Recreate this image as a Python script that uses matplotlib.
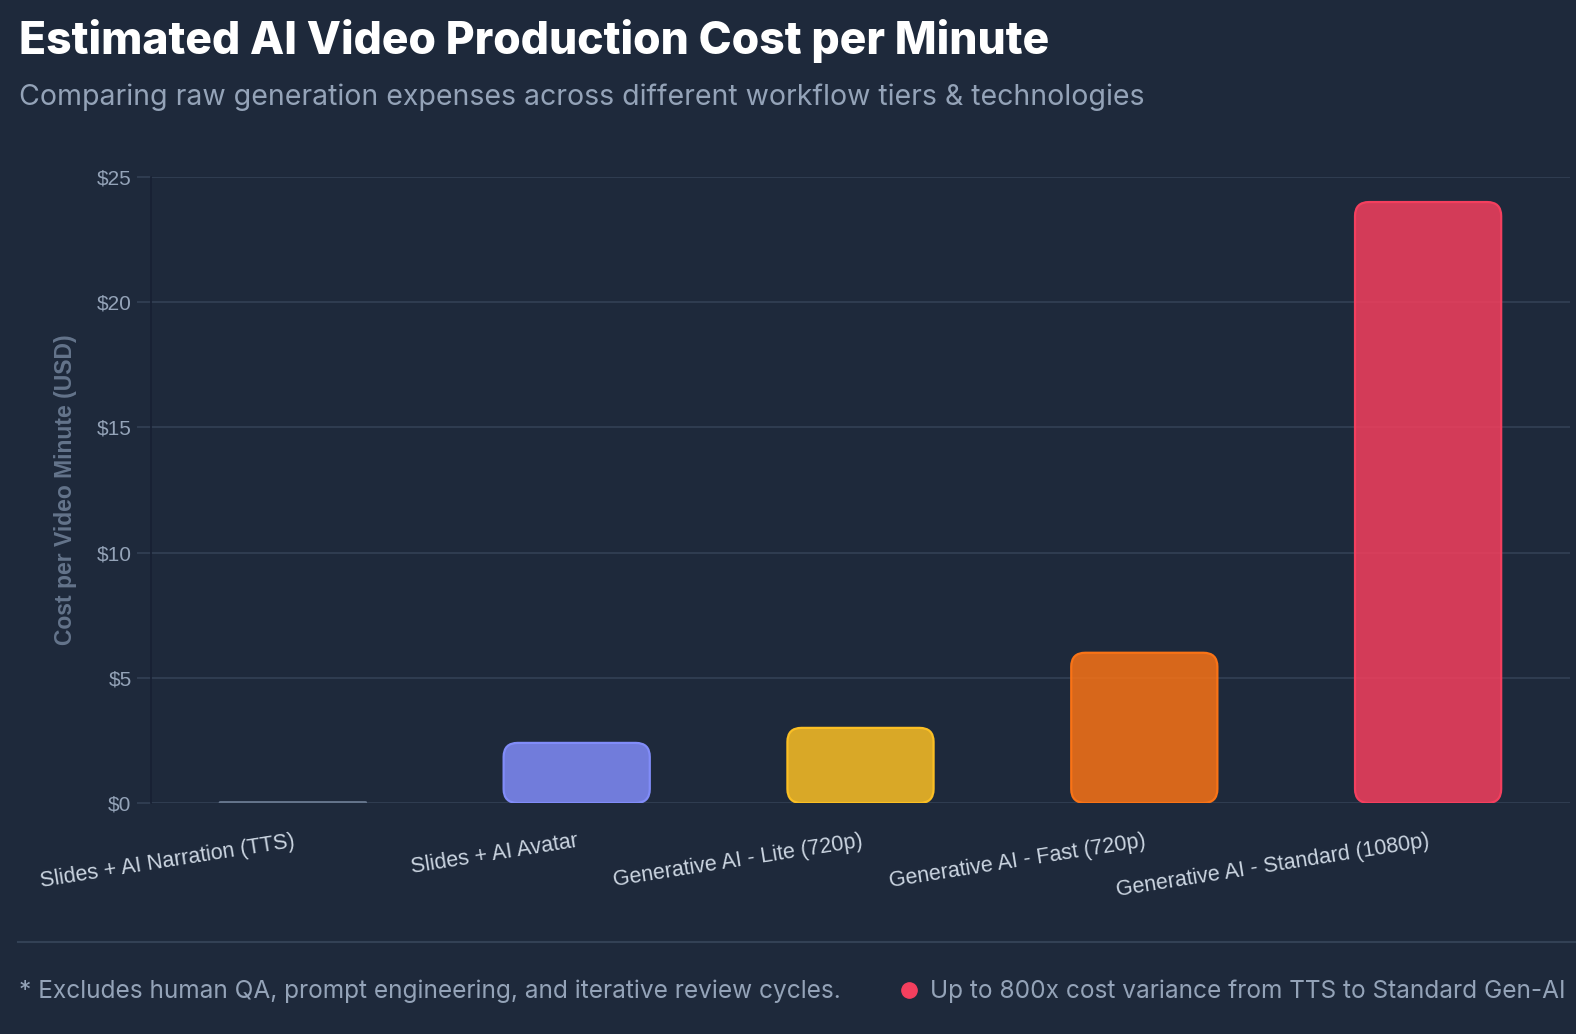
import matplotlib
matplotlib.use("Agg")
import matplotlib.pyplot as plt
from matplotlib.patches import FancyBboxPatch
from matplotlib.lines import Line2D

categories = [
    "Slides + AI Narration (TTS)",
    "Slides + AI Avatar",
    "Generative AI - Lite (720p)",
    "Generative AI - Fast (720p)",
    "Generative AI - Standard (1080p)",
]
costs = [0.03, 2.4, 3.0, 6.0, 24.0]
edge_colors = ["#64748b", "#818cf8", "#fbbf24", "#f97316", "#f43f5e"]
yticks = [0, 5, 10, 15, 20, 25]

BG = "#1e293b"
GRID = "#334155"
TXT = "#94a3b8"

W, H = 1576, 1034
fig = plt.figure(figsize=(W / 100, H / 100), dpi=100, facecolor=BG)

left, right = 151 / W, 1570 / W
bottom, top = 1 - 803 / H, 1 - 177 / H
ax = fig.add_axes([left, bottom, right - left, top - bottom], facecolor=BG)
ax.set_xlim(-0.5, len(categories) - 0.5)
ax.set_ylim(0, 25)

bars = ax.bar(range(len(categories)), costs, width=0.515, color="none", edgecolor="none")

# pixel scale for rounded corners
px_x = (len(categories)) / (right - left) / W
px_y = 25 / (top - bottom) / H
aspect = px_y / px_x
for b, ec in zip(bars, edge_colors):
    x0, y0 = b.get_x(), b.get_y()
    w, h = b.get_width(), b.get_height()
    r_px = min(14, h / px_y / 2)
    fc = matplotlib.colors.to_rgba(ec, 0.85)
    p = FancyBboxPatch((x0, y0), w, h,
                       boxstyle=f"round,pad=0,rounding_size={r_px * px_x}",
                       mutation_aspect=aspect, facecolor=fc, edgecolor=ec,
                       linewidth=1.6, zorder=3)
    ax.add_patch(p)
    b.remove()

ax.set_yticks(yticks)
ax.set_yticklabels([f"${v}" for v in yticks], fontsize=15, color=TXT, family="Liberation Sans")
ax.grid(axis="y", color=GRID, linewidth=1.2, zorder=0)
ax.tick_params(axis="y", length=10, width=1.2, color=GRID, pad=4)
ax.tick_params(axis="x", length=0, pad=20)
ax.set_xticks(range(len(categories)))
ax.set_xticklabels(categories, rotation=9, ha="right", rotation_mode="anchor",
                   fontsize=15.5, color="#cbd5e1", family="Liberation Sans")
for s in ["top", "right", "bottom"]:
    ax.spines[s].set_visible(False)
ax.spines["left"].set_color("#172033")
ax.spines["left"].set_linewidth(1.2)

ax.set_ylabel("Cost per Video Minute (USD)", fontsize=16.5, fontweight="bold",
              color="#64748b", family="Liberation Sans", labelpad=14)

fig.text(19 / W, 1 - 41 / H, "Estimated AI Video Production Cost per Minute",
         fontsize=32, fontweight="heavy", color="white", family="Inter", va="center")
fig.text(19 / W, 1 - 97 / H,
         "Comparing raw generation expenses across different workflow tiers & technologies",
         fontsize=20.5, color=TXT, family="Inter", va="center")

fig.add_artist(Line2D([18 / W, 1.0], [1 - 942 / H] * 2, color=GRID, linewidth=1.5))
fig.text(19 / W, 1 - 991 / H,
         "* Excludes human QA, prompt engineering, and iterative review cycles.",
         fontsize=17.6, color=TXT, family="Inter", va="center")
fig.add_artist(Line2D([909 / W], [1 - 990 / H], marker="o", markersize=11,
                      color="#f43f5e", linestyle="none"))
fig.text(930 / W, 1 - 991 / H,
         "Up to 800x cost variance from TTS to Standard Gen-AI",
         fontsize=17.6, color=TXT, family="Inter", va="center")

fig.savefig("out.png", dpi=100, facecolor=BG)
